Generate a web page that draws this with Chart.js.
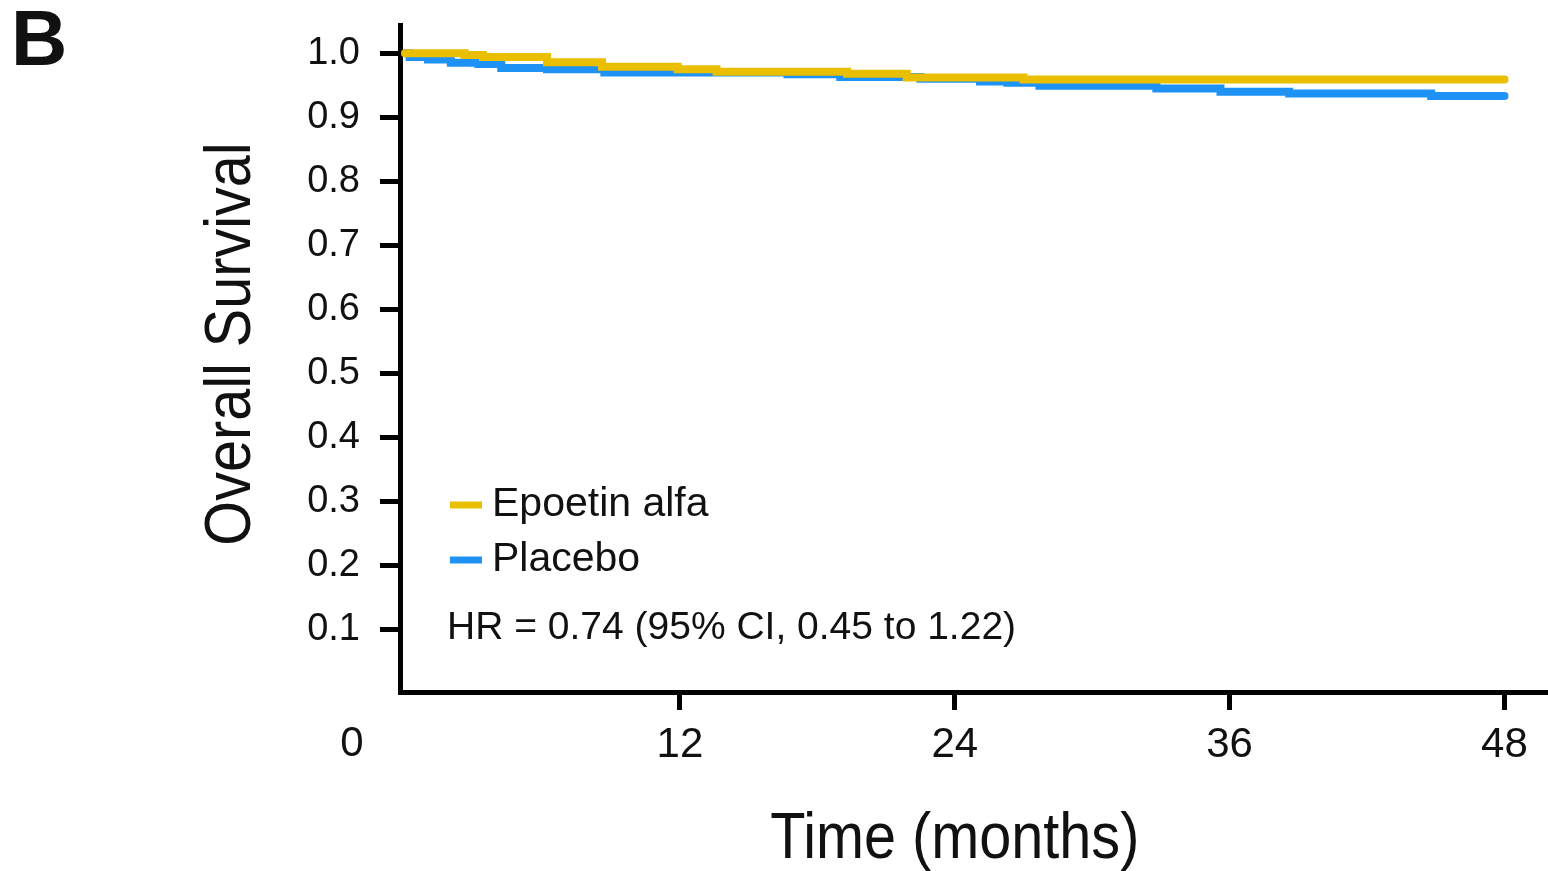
<!DOCTYPE html>
<html>
<head>
<meta charset="utf-8">
<title>Overall Survival</title>
<script src="https://cdn.jsdelivr.net/npm/chart.js@4.4.1/dist/chart.umd.min.js"></script>
<style>
  html, body { margin: 0; padding: 0; background: #ffffff; }
  #wrap { width: 1548px; height: 871px; }
</style>
</head>
<body>
<div id="wrap"><canvas id="km" width="1548" height="871"></canvas></div>
<script>
// Kaplan-Meier step points: month of each event and survival after it
const epoetinMonths   = [0, 2.6, 3.4, 6.2, 8.6, 11.9, 13.6, 19.3, 21.9, 27.0, 48];
const epoetinSurvival = [1.0, 0.997, 0.994, 0.986, 0.979, 0.975, 0.971, 0.968, 0.962, 0.959, 0.959];

const placeboMonths   = [0, 0.2, 1.0, 2.0, 3.2, 4.2, 6.2, 8.7, 16.7, 19.0, 22.5, 25.1, 26.3, 27.7, 32.8, 35.6, 38.6, 44.8, 48];
const placeboSurvival = [1.0, 0.994, 0.990, 0.985, 0.983, 0.977, 0.975, 0.970, 0.967, 0.963, 0.960, 0.956, 0.954, 0.949, 0.945, 0.940, 0.937, 0.933, 0.933];

const seriesNames  = ['Epoetin alfa', 'Placebo'];
const seriesColors = ['#E9BF00', '#1F93F5'];

const xTickValues = [12, 24, 36, 48];
const yTickValues = [0.1, 0.2, 0.3, 0.4, 0.5, 0.6, 0.7, 0.8, 0.9, 1.0];
const originLabel = '0';

const xTitle = 'Time (months)';
const yTitle = 'Overall Survival';
const panelLetter = 'B';
const hazardText = 'HR = 0.74 (95% CI, 0.45 to 1.22)';

const FONT = '"Liberation Sans", Arial, Helvetica, sans-serif';
const INK = '#111111';

function toPoints(months, values) {
  return months.map((m, i) => ({ x: m, y: values[i] }));
}

// Extra text drawn on top of the plot: panel letter, axis titles, origin label, legend, HR note
const decorations = {
  id: 'decorations',
  afterDraw(chart) {
    const ctx = chart.ctx;
    const xs = chart.scales.x;
    ctx.save();
    ctx.fillStyle = INK;

    // panel letter
    ctx.font = 'bold 78px ' + FONT;
    ctx.textAlign = 'left';
    ctx.textBaseline = 'alphabetic';
    ctx.fillText(panelLetter, 11, 65);

    // shared origin label
    ctx.font = '42px ' + FONT;
    ctx.textAlign = 'center';
    ctx.textBaseline = 'middle';
    ctx.fillText(originLabel, 352, 744);

    // axis titles, slightly condensed
    ctx.font = '64px ' + FONT;
    ctx.textAlign = 'center';
    ctx.textBaseline = 'alphabetic';
    ctx.save();
    ctx.translate(xs.getPixelForValue(24), 858);
    ctx.scale(0.9, 1);
    ctx.fillText(xTitle, 0, 0);
    ctx.restore();

    ctx.save();
    ctx.translate(250, 344);
    ctx.rotate(-Math.PI / 2);
    ctx.scale(0.9, 1);
    ctx.fillText(yTitle, 0, 0);
    ctx.restore();

    // legend
    const rows = [505, 560];
    chart.data.datasets.forEach((ds, i) => {
      const y = rows[i];
      ctx.strokeStyle = ds.borderColor;
      ctx.lineWidth = 7;
      ctx.lineCap = 'butt';
      ctx.beginPath();
      ctx.moveTo(450, y);
      ctx.lineTo(482, y);
      ctx.stroke();
      ctx.fillStyle = INK;
      ctx.font = '41px ' + FONT;
      ctx.textAlign = 'left';
      ctx.textBaseline = 'middle';
      ctx.fillText(ds.label, 492, y);
    });

    // hazard ratio note
    ctx.font = '39px ' + FONT;
    ctx.textAlign = 'left';
    ctx.textBaseline = 'middle';
    ctx.fillText(hazardText, 447, 628);

    ctx.restore();
  }
};

new Chart(document.getElementById('km'), {
  type: 'line',
  data: {
    datasets: [
      {
        label: seriesNames[0],
        data: toPoints(epoetinMonths, epoetinSurvival),
        borderColor: seriesColors[0],
        backgroundColor: seriesColors[0],
        borderWidth: 8,
        stepped: true,
        pointRadius: 0,
        borderCapStyle: 'round',
        fill: false
      },
      {
        label: seriesNames[1],
        data: toPoints(placeboMonths, placeboSurvival),
        borderColor: seriesColors[1],
        backgroundColor: seriesColors[1],
        borderWidth: 8,
        stepped: true,
        pointRadius: 0,
        borderCapStyle: 'round',
        fill: false
      }
    ]
  },
  options: {
    responsive: false,
    animation: false,
    devicePixelRatio: 1,
    layout: { padding: { top: 25, right: 0, bottom: 0, left: 0 } },
    plugins: {
      legend: { display: false },
      tooltip: { enabled: false },
      title: { display: false }
    },
    scales: {
      x: {
        type: 'linear',
        min: -0.22,
        max: 49.9,
        afterBuildTicks: s => { s.ticks = xTickValues.map(v => ({ value: v })); },
        afterFit: s => {
          s.height = 179;
          s.paddingLeft = 0;
          s.paddingRight = 0;
        },
        border: { display: true, color: '#000', width: 5 },
        grid: {
          drawOnChartArea: false,
          drawTicks: true,
          tickLength: 18,
          tickWidth: 5,
          tickColor: '#000',
          color: '#000',
          lineWidth: 5
        },
        ticks: {
          color: INK,
          font: { family: FONT, size: 42 },
          padding: 10,
          maxRotation: 0,
          autoSkip: false,
          callback: v => String(v)
        },
        title: { display: false }
      },
      y: {
        type: 'linear',
        min: 0.003,
        max: 1.044,
        afterBuildTicks: s => { s.ticks = yTickValues.map(v => ({ value: v })); },
        afterFit: s => {
          s.width = 400;
          s.paddingTop = 0;
          s.paddingBottom = 0;
        },
        border: { display: true, color: '#000', width: 5 },
        grid: {
          drawOnChartArea: false,
          drawTicks: true,
          tickLength: 20,
          tickWidth: 5,
          tickColor: '#000',
          color: '#000',
          lineWidth: 5
        },
        ticks: {
          color: INK,
          font: { family: FONT, size: 38 },
          padding: 20,
          autoSkip: false,
          callback: v => v.toFixed(1)
        },
        title: { display: false }
      }
    }
  },
  plugins: [decorations]
});
</script>
</body>
</html>
